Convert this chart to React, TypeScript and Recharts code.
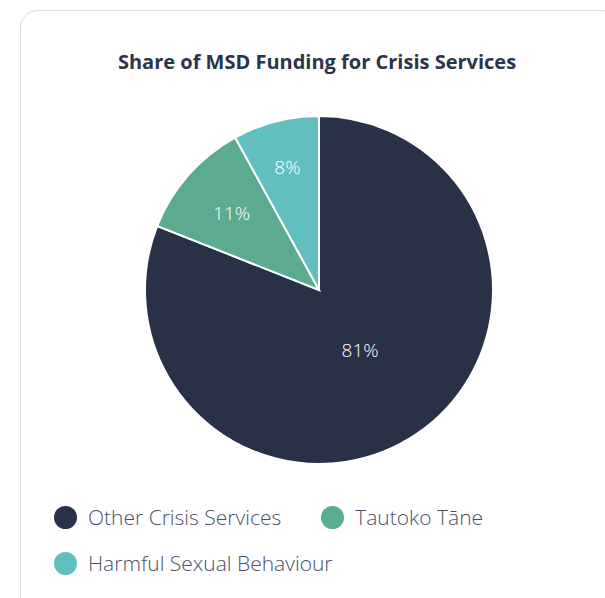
import React from 'react';
import { PieChart, Pie, Cell, Legend } from 'recharts';

const categories = ['Other Crisis Services', 'Tautoko Tāne', 'Harmful Sexual Behaviour'];
const shares = [81, 11, 8];
const colors = ['#283146', '#5aab90', '#62bfbf'];

const data = categories.map((name, i) => ({ name, value: shares[i] }));

const FONT = '"Open Sans", Lato, sans-serif';
const RAD = Math.PI / 180;

const renderLabel = (props: any) => {
  const { cx, cy, midAngle, outerRadius, percent, value } = props;
  // big slice label sits closer to the centre, small ones further out
  const r = outerRadius * (percent > 0.5 ? 0.42 : percent > 0.09 ? 0.67 : 0.73);
  const x = cx + r * Math.cos(-midAngle * RAD);
  const y = cy + r * Math.sin(-midAngle * RAD);
  return (
    <text x={x} y={y} fill="#ffffff" textAnchor="middle" dominantBaseline="central"
      fontSize={19} fontFamily={FONT} fontWeight={300}>
      {`${value}%`}
    </text>
  );
};

const renderLegend = () => (
  <div style={{ display: 'flex', flexWrap: 'wrap', width: 470, fontFamily: FONT }}>
    {categories.map((name, i) => (
      <div key={name} style={{ display: 'flex', alignItems: 'center', height: 46, marginRight: 40 }}>
        <span style={{ width: 23, height: 23, borderRadius: '50%', background: colors[i], display: 'inline-block', marginRight: 11 }} />
        <span style={{ fontSize: 21, fontWeight: 300, color: '#4b5064' }}>{name}</span>
      </div>
    ))}
  </div>
);

const App: React.FC = () => {
  return (
    <div style={{ position: 'absolute', left: 20, top: 10, width: 600, height: 640, border: '1px solid #dcdcdc', borderRadius: 18, background: '#fff', boxSizing: 'border-box' }}>
      <div style={{ position: 'absolute', left: 0, top: 37, width: 592, textAlign: 'center', fontFamily: FONT, fontWeight: 700, fontSize: 20, color: '#2c3448' }}>
        Share of MSD Funding for Crisis Services
      </div>
      <div style={{ position: 'absolute', left: 0, top: 0 }}>
        <PieChart width={590} height={590}>
          <Pie
            data={data}
            dataKey="value"
            nameKey="name"
            cx={293}
            cy={274}
            outerRadius={174}
            startAngle={90}
            endAngle={-270}
            stroke="#ffffff"
            strokeWidth={2}
            label={renderLabel}
            labelLine={false}
            isAnimationActive={false}
          >
            {data.map((d, i) => (
              <Cell key={d.name} fill={colors[i]} />
            ))}
          </Pie>
          <Legend content={renderLegend} wrapperStyle={{ left: 33, top: 483, width: 470 }} />
        </PieChart>
      </div>
    </div>
  );
};

export default App;
